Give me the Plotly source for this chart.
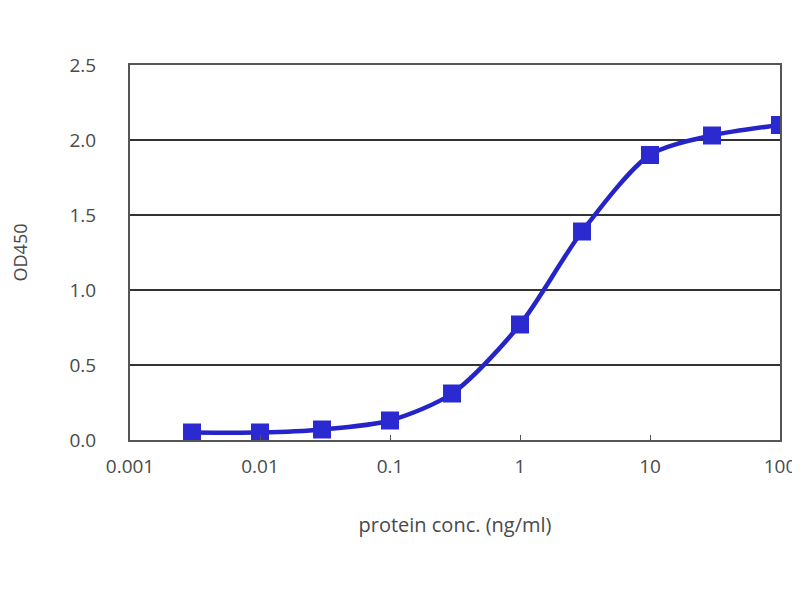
import plotly.graph_objects as go

conc = [0.003, 0.01, 0.03, 0.1, 0.3, 1, 3, 10, 30, 100]
od450 = [0.05, 0.05, 0.07, 0.13, 0.31, 0.77, 1.39, 1.90, 2.03, 2.10]
x_ticks = [0.001, 0.01, 0.1, 1, 10, 100]
x_labels = ["0.001", "0.01", "0.1", "1", "10", "100"]
y_ticks = [0, 0.5, 1.0, 1.5, 2.0, 2.5]
y_labels = ["0.0", "0.5", "1.0", "1.5", "2.0", "2.5"]

fig = go.Figure()
fig.add_trace(go.Scatter(
    x=conc, y=od450, mode="lines+markers",
    line=dict(color="#2424c8", width=4.5, shape="spline", smoothing=0.8),
    marker=dict(symbol="square", size=18, color="#2a2ad0"),
    showlegend=False,
))

font = dict(family="Open Sans, Liberation Sans, sans-serif", size=19, color="#4a4a4a")

fig.update_layout(
    width=800, height=600,
    margin=dict(l=122, r=28, t=57, b=168, autoexpand=False),
    paper_bgcolor="white", plot_bgcolor="white",
    font=font,
    xaxis=dict(
        type="log", range=[-3, 2],
        tickvals=x_ticks, ticktext=x_labels,
        showgrid=False, zeroline=False,
        showline=True, linecolor="#555555", linewidth=2, mirror=True,
        ticks="inside", ticklen=5, tickcolor="#555555",
        ticklabelstandoff=8, automargin=False,
        title=dict(text="protein conc. (ng/ml)", font=dict(family="Open Sans, sans-serif", size=20, color="#4a4a4a"), standoff=40),
    ),
    yaxis=dict(
        range=[0, 2.5],
        tickvals=y_ticks, ticktext=y_labels,
        showgrid=True, gridcolor="#333333", gridwidth=2,
        zeroline=False,
        showline=True, linecolor="#555555", linewidth=2, mirror=True,
        ticks="", ticklabelstandoff=28, automargin=False,
        title=dict(text="OD450", font=dict(family="Open Sans, sans-serif", size=18, color="#4a4a4a"), standoff=40),
    ),
)

fig.write_html("out.html")
